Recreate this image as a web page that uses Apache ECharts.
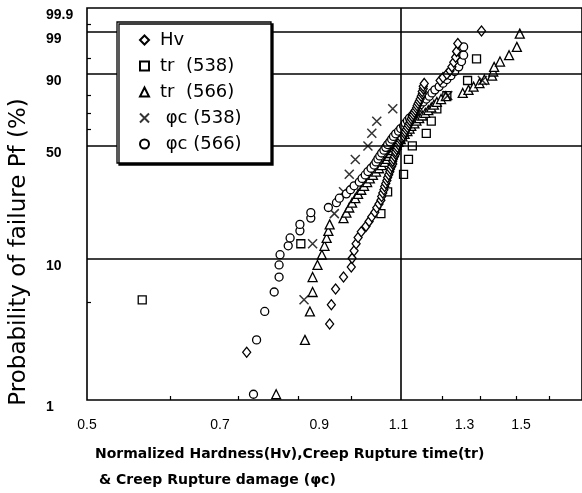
<!DOCTYPE html>
<html><head><meta charset="utf-8">
<script src="https://cdn.jsdelivr.net/npm/echarts@6/dist/echarts.min.js"></script>
<style>html,body{margin:0;padding:0;background:#fff;}#c{width:582px;height:493px;}</style>
</head><body><div id="c"></div>
<script>
// ---- axis definitions (values) ----
const xMin = 0.5, xMax = 1.75;
const xTickLabels = [0.5, 0.7, 0.9, 1.1, 1.3, 1.5];
const xMinorTicks = [0.617, 0.734, 0.853, 0.975, 1.228, 1.353, 1.480, 1.611];
const xGridLines = [1.1];
const yMin = 1, yMax = 99.9;
const yTickLabels = [1, 10, 50, 90, 99, 99.9];
const yMinorTicks = [5, 60, 70, 80, 95, 99.5];
const yGridLines = [10, 50, 90, 99];

// ---- series data: [normalized value, cumulative failure probability %] ----
const hv = [[0.749,2.2],[0.924,3.5],[0.928,4.8],[0.938,6.2],[0.957,7.5],[0.976,8.8],[0.978,10.1],[0.983,11.4],[0.988,12.7],[0.993,14.0],[1.001,15.3],[1.013,16.6],[1.021,17.9],[1.028,19.2],[1.036,20.5],[1.041,21.9],[1.047,23.2],[1.052,24.5],[1.054,25.8],[1.057,27.1],[1.060,28.4],[1.062,29.7],[1.065,31.0],[1.068,32.3],[1.070,33.6],[1.073,34.9],[1.076,36.3],[1.078,37.6],[1.081,38.9],[1.084,40.2],[1.084,41.5],[1.086,42.8],[1.089,44.1],[1.092,45.4],[1.092,46.7],[1.095,48.0],[1.097,49.3],[1.100,50.7],[1.103,52.0],[1.106,53.3],[1.108,54.6],[1.114,55.9],[1.117,57.2],[1.119,58.5],[1.122,59.8],[1.125,61.1],[1.128,62.4],[1.131,63.7],[1.133,65.1],[1.136,66.4],[1.139,67.7],[1.142,69.0],[1.145,70.3],[1.148,71.6],[1.151,72.9],[1.153,74.2],[1.156,75.5],[1.159,76.8],[1.162,78.1],[1.165,79.5],[1.168,80.8],[1.168,82.1],[1.171,83.4],[1.171,84.7],[1.174,86.0],[1.222,87.3],[1.231,88.6],[1.243,89.9],[1.253,91.2],[1.259,92.5],[1.265,93.9],[1.271,95.2],[1.274,96.5],[1.278,97.8],[1.357,99.1]];
const tr538 = [[0.575,5.2],[0.859,12.7],[1.052,20.1],[1.070,27.6],[1.114,35.1],[1.128,42.5],[1.139,50.0],[1.180,57.5],[1.195,64.9],[1.212,72.4],[1.243,79.9],[1.310,87.3],[1.340,94.8]];
const tr566 = [[0.807,1.1],[0.868,2.7],[0.879,4.3],[0.885,5.9],[0.885,7.5],[0.896,9.1],[0.906,10.7],[0.912,12.3],[0.917,13.9],[0.921,15.5],[0.924,17.1],[0.957,18.8],[0.964,20.4],[0.971,22.0],[0.978,23.6],[0.986,25.2],[0.993,26.8],[1.001,28.4],[1.008,30.0],[1.016,31.6],[1.023,33.2],[1.031,34.8],[1.039,36.4],[1.047,38.0],[1.054,39.6],[1.062,41.2],[1.068,42.8],[1.073,44.4],[1.078,46.0],[1.084,47.6],[1.089,49.2],[1.095,50.8],[1.100,52.4],[1.106,54.0],[1.111,55.6],[1.117,57.2],[1.125,58.8],[1.131,60.4],[1.136,62.0],[1.145,63.6],[1.151,65.2],[1.159,66.8],[1.168,68.4],[1.177,70.0],[1.186,71.6],[1.195,73.2],[1.203,74.8],[1.212,76.4],[1.225,78.0],[1.240,79.6],[1.294,81.3],[1.313,82.9],[1.330,84.5],[1.350,86.1],[1.367,87.7],[1.394,89.3],[1.398,90.9],[1.401,92.5],[1.422,94.1],[1.455,95.7],[1.484,97.3],[1.495,98.9]];
const pc538 = [[0.866,5.2],[0.885,12.7],[0.935,20.1],[0.957,27.6],[0.971,35.1],[0.986,42.5],[1.018,50.0],[1.028,57.5],[1.041,64.9],[1.084,72.4],[1.246,79.9],[1.360,87.3],[1.287,94.8]];
const pc566 = [[0.762,1.1],[0.768,2.7],[0.784,4.3],[0.803,5.9],[0.813,7.5],[0.813,9.1],[0.815,10.7],[0.832,12.3],[0.836,13.9],[0.857,15.5],[0.857,17.1],[0.881,18.8],[0.881,20.4],[0.921,22.0],[0.940,23.6],[0.947,25.2],[0.964,26.8],[0.974,28.4],[0.983,30.0],[0.996,31.6],[1.003,33.2],[1.011,34.8],[1.018,36.4],[1.026,38.0],[1.034,39.6],[1.039,41.2],[1.044,42.8],[1.049,44.4],[1.054,46.0],[1.060,47.6],[1.065,49.2],[1.070,50.8],[1.076,52.4],[1.081,54.0],[1.086,55.6],[1.092,57.2],[1.100,58.8],[1.106,60.4],[1.114,62.0],[1.119,63.6],[1.125,65.2],[1.131,66.8],[1.139,68.4],[1.145,70.0],[1.151,71.6],[1.156,73.2],[1.162,74.8],[1.171,76.4],[1.180,78.0],[1.189,79.6],[1.197,81.3],[1.206,82.9],[1.219,84.5],[1.231,86.1],[1.243,87.7],[1.256,89.3],[1.268,90.9],[1.281,92.5],[1.290,94.1],[1.297,95.7],[1.297,97.3]];

// ---- scale transforms: log x, Weibull y ----
const X = v => Math.log(v);
const Y = p => Math.log(-Math.log(1 - p / 100));
const fmtNum = v => String(v);

const xLabelMap = {}; xTickLabels.forEach(v => xLabelMap[X(v).toFixed(5)] = fmtNum(v));
const yLabelMap = {}; yTickLabels.forEach(v => yLabelMap[Y(v).toFixed(5)] = fmtNum(v));

const chart = echarts.init(document.getElementById('c'), null, {renderer: 'canvas'});
const mk = (name, data, symbol, size, extra) => Object.assign({
  name, type: 'scatter', data: data.map(d => [X(d[0]), Y(d[1])]),
  symbol, symbolSize: size,
  itemStyle: {color: '#fff', borderColor: '#000', borderWidth: 1.3, opacity: 1},
  emphasis: {disabled: true}
}, extra || {});

const lineStyle = {color: '#000', width: 1.6, type: 'solid'};
const gridMarks = {
  silent: true, symbol: 'none', label: {show: false}, lineStyle,
  animation: false,
  data: yGridLines.map(p => ({yAxis: Y(p)})).concat(xGridLines.map(v => ({xAxis: X(v)})))
};

const series = [
  mk('Hv', hv, 'diamond', [8, 10], {markLine: gridMarks, z: 3}),
  mk('tr  (538)', tr538, 'rect', 8),
  mk('tr  (566)', tr566, 'triangle', 9),
  mk(' \u03c6c (538)', pc538, 'path://M0,0L10,10M10,0L0,10', 9, {itemStyle: {color: 'transparent', borderColor: '#000', borderWidth: 1.5}}),
  mk(' \u03c6c (566)', pc566, 'circle', 8)
];

const sans = '"DejaVu Sans", "Liberation Sans", Arial, sans-serif';
chart.setOption({
  animation: false,
  backgroundColor: '#fff',
  grid: {left: 87, top: 8, right: -7, bottom: 93, show: true, borderColor: '#000', borderWidth: 1.6, backgroundColor: 'transparent'},
  xAxis: {
    type: 'value', min: X(xMin), max: X(xMax),
    axisLine: {show: false, onZero: false},
    splitLine: {show: false},
    axisTick: {show: true, inside: true, length: 4, lineStyle: {color: '#000', width: 1.2}, customValues: xMinorTicks.map(X)},
    axisLabel: {customValues: xTickLabels.map(X), formatter: v => xLabelMap[v.toFixed(5)] || '', color: '#000', fontSize: 14, fontFamily: 'Liberation Sans, Arial, sans-serif', margin: 18}
  },
  yAxis: {
    type: 'value', min: Y(yMin), max: Y(yMax),
    axisLine: {show: false, onZero: false},
    splitLine: {show: false},
    axisTick: {show: true, inside: true, length: 4, lineStyle: {color: '#000', width: 1.2}, customValues: yMinorTicks.map(Y)},
    axisLabel: {customValues: yTickLabels.map(Y), formatter: v => yLabelMap[v.toFixed(5)] || '', color: '#000', fontSize: 14, fontWeight: 'bold', fontFamily: 'Liberation Sans, Arial, sans-serif', align: 'left', margin: 41, verticalAlign: 'top'}
  },
  legend: {
    orient: 'vertical', left: 117, top: 22, z: 20,
    padding: [9, 18, 9, 22], itemGap: 8, itemWidth: 9, itemHeight: 9,
    backgroundColor: 'transparent', borderWidth: 0,
    textStyle: {fontSize: 18, color: '#000', fontFamily: sans, padding: [0, 0, 0, 6]},
    data: series.map(s => s.name)
  },
  graphic: [
    {type: 'rect', z: 15, shape: {x: 117, y: 22, width: 154, height: 141}, style: {fill: '#fff', stroke: '#000', lineWidth: 1.3, shadowColor: '#000', shadowBlur: 0, shadowOffsetX: 2, shadowOffsetY: 2}},
    {type: 'text', x: 19, y: 252, rotation: Math.PI / 2, style: {text: 'Probability of failure Pf (%)', font: '23px ' + sans, fill: '#000', align: 'center', verticalAlign: 'middle'}},
    {type: 'text', left: 95, top: 447, style: {text: 'Normalized Hardness(Hv),Creep Rupture time(tr)', font: 'bold 14px ' + sans, fill: '#000'}},
    {type: 'text', left: 99, top: 473, style: {text: '& Creep Rupture damage (\u03c6c)', font: 'bold 14px ' + sans, fill: '#000'}}
  ],
  series
});
</script></body></html>
